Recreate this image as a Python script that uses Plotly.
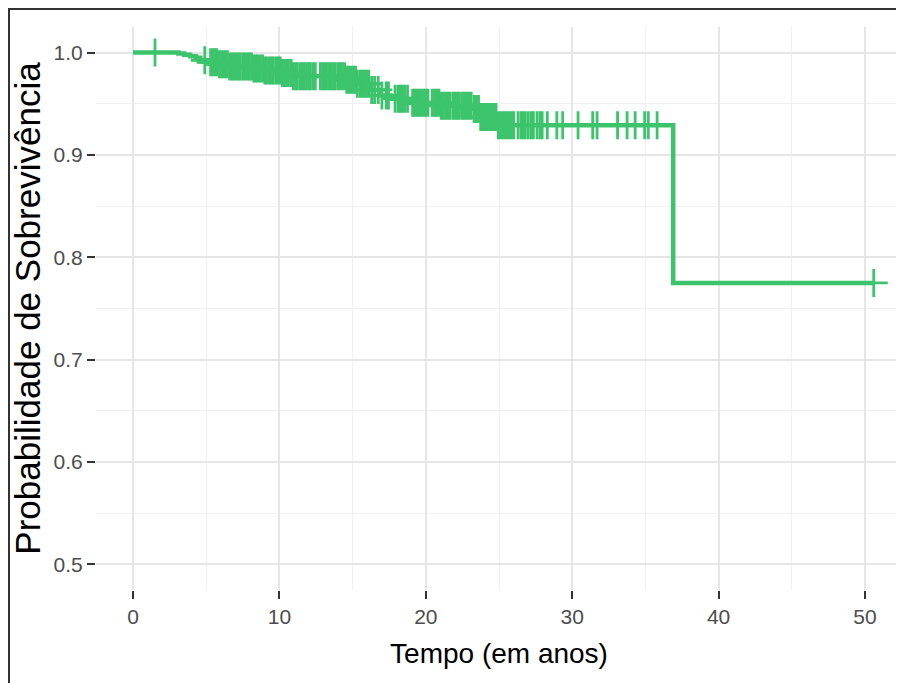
import plotly.graph_objects as go

# ---- data ----
event_times = [0, 3.1, 3.5, 3.9, 4.3, 4.6, 5.1, 5.8, 6.6, 8.2, 8.9, 10.1, 10.9,
               14.6, 15.3, 16.2, 16.9, 17.6, 18.9, 21.0, 23.2, 23.7, 24.9, 36.9]
surv_values = [1.0, 0.999, 0.998, 0.9965, 0.995, 0.9925, 0.9905, 0.9885, 0.9865,
               0.9845, 0.9825, 0.980, 0.977, 0.9735, 0.9695, 0.9635, 0.958, 0.955,
               0.951, 0.948, 0.945, 0.937, 0.929, 0.775]
end_time = 50.6

censor_times = [
    1.5, 4.9,
    5.3, 5.45, 5.6, 5.72, 5.9, 6.05, 6.2, 6.31, 6.45, 6.6, 6.78, 6.9, 7.05, 7.2,
    7.33, 7.5, 7.62, 7.8, 7.95, 8.1, 8.25, 8.4, 8.52, 8.7, 8.85, 9.0, 9.12, 9.3,
    9.45, 9.58, 9.75, 9.9, 10.05, 10.2, 10.35, 10.5, 10.62, 10.8, 10.95, 11.1,
    11.22, 11.4, 11.55, 11.7, 11.85, 12.0, 12.12, 12.3, 12.45, 12.8, 12.95, 13.1,
    13.22, 13.4, 13.55, 13.7, 13.82, 14.0, 14.15, 14.3, 14.45, 14.6, 14.75, 14.9,
    15.05, 15.2, 15.32, 15.5, 15.65, 15.8, 15.95, 16.1, 16.3, 16.5, 16.75, 17.0,
    17.3, 17.45, 17.9, 18.1, 18.25, 18.4, 18.55, 18.75, 19.1, 19.25, 19.4, 19.55,
    19.7, 19.85, 20.0, 20.15, 20.45, 20.6, 20.75, 20.9, 21.05, 21.2, 21.35, 21.5,
    21.65, 21.85, 22.0, 22.15, 22.3, 22.5, 22.65, 22.8, 22.95, 23.1, 23.3, 23.45,
    23.6, 23.75, 23.9, 24.05, 24.2, 24.35, 24.5, 24.65, 24.8, 24.95, 25.1, 25.25,
    25.4, 25.55, 25.7, 25.85, 26.0, 26.3, 26.5, 26.65, 26.8, 27.0, 27.2, 27.35,
    27.6, 27.8, 27.95, 28.3, 28.95, 29.35, 30.4, 31.4, 31.7, 33.1, 33.75, 34.3,
    34.95, 35.2, 35.8, 50.6,
]

x_ticks = [0, 10, 20, 30, 40, 50]
y_ticks = [0.5, 0.6, 0.7, 0.8, 0.9, 1.0]
y_tick_labels = ["0.5", "0.6", "0.7", "0.8", "0.9", "1.0"]

x_title = "Tempo (em anos)"
y_title = "Probabilidade de Sobrevivência"

# ---- build the step curve from the data ----
step_x = list(event_times) + [end_time]
step_y = list(surv_values) + [surv_values[-1]]


def surv_at(t):
    s = surv_values[0]
    for et, sv in zip(event_times, surv_values):
        if et <= t:
            s = sv
        else:
            break
    return s


censor_y = [surv_at(t) for t in censor_times]

GREEN = "#3CC46C"

fig = go.Figure()
fig.add_trace(go.Scatter(
    x=step_x, y=step_y, mode="lines",
    line=dict(color=GREEN, width=4.5, shape="hv"),
    hoverinfo="skip", showlegend=False,
))
fig.add_trace(go.Scatter(
    x=censor_times, y=censor_y, mode="markers",
    marker=dict(symbol="cross-thin", size=20,
                line=dict(color=GREEN, width=2.8)),
    showlegend=False,
))

# the page has an 8px body margin, so the figure starts at (8, 8)
W, H = 904, 683
ML, MR, MT, MB = 88, 10, 19, 101
pw = W - ML - MR
ph = H - MT - MB


def px_to_paper_x(px):
    return (px - ML) / pw


def px_to_paper_y(py):
    return 1 - (py - MT) / ph


fig.update_layout(
    width=W, height=H,
    margin=dict(l=ML, r=MR, t=MT, b=MB, autoexpand=False),
    paper_bgcolor="white", plot_bgcolor="white",
    font=dict(family="Liberation Sans, Arial, sans-serif", color="#4D4D4D"),
    xaxis=dict(
        range=[-2.53, 52.53], tickvals=x_ticks, automargin=True,
        showgrid=True, gridcolor="#E6E6E6", gridwidth=1.6,
        minor=dict(dtick=5, showgrid=True, gridcolor="#F0F0F0", gridwidth=1.1,
                   tick0=5),
        zeroline=False, showline=False,
        ticks="outside", ticklen=8, tickwidth=2, tickcolor="#333333",
        tickfont=dict(size=21, color="#4D4D4D"),
        title=dict(text=x_title, font=dict(size=28, color="black"), standoff=16),
    ),
    yaxis=dict(
        range=[0.475, 1.025], tickvals=y_ticks, ticktext=y_tick_labels,
        automargin=True,
        showgrid=True, gridcolor="#E6E6E6", gridwidth=1.6,
        minor=dict(dtick=0.05, showgrid=True, gridcolor="#F0F0F0", gridwidth=1.1,
                   tick0=0.55),
        zeroline=False, showline=False,
        ticks="outside", ticklen=8, tickwidth=2, tickcolor="#333333",
        tickfont=dict(size=21, color="#4D4D4D"),
        title=dict(text=y_title, font=dict(size=35, color="black"), standoff=7),
    ),
    shapes=[
        dict(type="line", xref="paper", yref="paper",
             x0=px_to_paper_x(0), x1=px_to_paper_x(W + 5),
             y0=px_to_paper_y(1), y1=px_to_paper_y(1),
             line=dict(color="#333333", width=2)),
        dict(type="line", xref="paper", yref="paper",
             x0=px_to_paper_x(1), x1=px_to_paper_x(1),
             y0=px_to_paper_y(0), y1=px_to_paper_y(H + 5),
             line=dict(color="#333333", width=2)),
    ],
)

fig.write_html("out.html")
